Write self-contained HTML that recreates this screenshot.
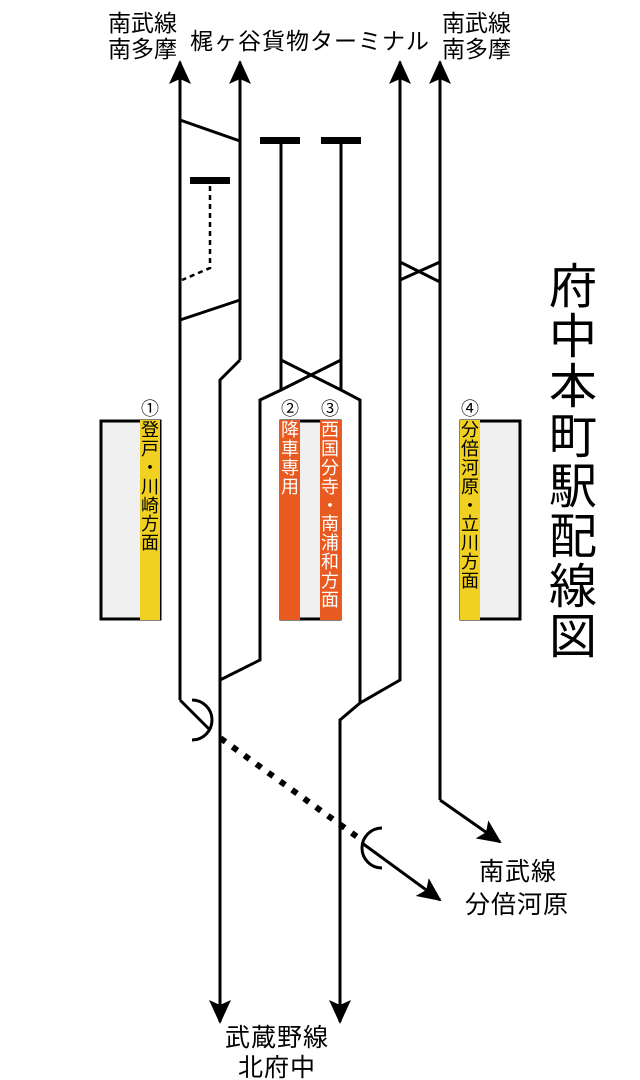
<!DOCTYPE html>
<html><head><meta charset="utf-8"><style>
html,body{margin:0;padding:0;background:#fff;}
svg{display:block;}
text{font-family:"Liberation Sans","Noto Sans CJK JP",sans-serif;}
</style></head><body>
<svg width="640" height="1080" viewBox="0 0 640 1080" xmlns="http://www.w3.org/2000/svg">
<defs>
<marker id="ah" viewBox="0 0 24 22" refX="22" refY="11" markerWidth="24" markerHeight="22" markerUnits="userSpaceOnUse" orient="auto">
<path d="M0,0 L24,11 L0,22 L5,11 Z" fill="#000"/>
</marker>
</defs>
<!-- platforms -->
<g stroke="#000" stroke-width="3">
<rect x="101" y="421" width="59" height="198" fill="#f0f0f0"/>
<rect x="281" y="421" width="59" height="198" fill="#f0f0f0"/>
<rect x="461" y="421" width="59" height="198" fill="#f0f0f0"/>
</g>
<rect x="140" y="420" width="20" height="200" fill="#f0d020"/>
<rect x="280" y="420" width="20" height="200" fill="#e85a20"/>
<rect x="320" y="420" width="21" height="200" fill="#e85a20"/>
<rect x="460" y="420" width="20" height="200" fill="#f0d020"/>
<g font-size="18" text-anchor="middle">
<text x="150" y="415">①</text><text x="290" y="415">②</text><text x="330" y="415">③</text><text x="470" y="415">④</text>
</g>
<g font-size="18" text-anchor="middle" fill="#000">
<text x="150" y="436">登</text><text x="150" y="455">戸</text><text x="150" y="474">・</text><text x="150" y="493">川</text><text x="150" y="512">崎</text><text x="150" y="530">方</text><text x="150" y="549">面</text>
<text x="470" y="436">分</text><text x="470" y="455">倍</text><text x="470" y="474">河</text><text x="470" y="493">原</text><text x="470" y="512">・</text><text x="470" y="530">立</text><text x="470" y="549">川</text><text x="470" y="568">方</text><text x="470" y="587">面</text>
</g>
<g font-size="18" text-anchor="middle" fill="#fff">
<text x="290" y="436">降</text><text x="290" y="455">車</text><text x="290" y="474">専</text><text x="290" y="493">用</text>
<text x="330" y="436">西</text><text x="330" y="455">国</text><text x="330" y="474">分</text><text x="330" y="493">寺</text><text x="330" y="512">・</text><text x="330" y="530">南</text><text x="330" y="549">浦</text><text x="330" y="568">和</text><text x="330" y="587">方</text><text x="330" y="606">面</text>
</g>
<!-- tracks -->
<g stroke="#000" stroke-width="3" fill="none">
<path d="M180,700 L180,62" marker-end="url(#ah)"/>
<path d="M180,700 L210,730"/>
<path d="M240,360 L240,62" marker-end="url(#ah)"/>
<path d="M240,360 L220,380 L220,1022" marker-end="url(#ah)"/>
<path d="M180,120 L240,141"/>
<path d="M180,320 L240,300"/>
<path d="M220,680 L260,660 L260,400 L281,390 L281,140"/>
<path d="M341,140 L341,390 L360,400 L360,703 L400,680 L400,62" marker-end="url(#ah)"/>
<path d="M281,360 L341,390"/>
<path d="M341,360 L281,390"/>
<path d="M360,703 L340,720 L340,1022" marker-end="url(#ah)"/>
<path d="M400,280 L440,262"/>
<path d="M400,262 L440,282"/>
<path d="M440,800 L440,62" marker-end="url(#ah)"/>
<path d="M440,800 L500,842" marker-end="url(#ah)"/>
<path d="M362,843 L440,900" marker-end="url(#ah)"/>
<path d="M192,700 A20,20 0 0 1 192,740"/>
<path d="M382,828 A20,20 0 0 0 382,868"/>
</g>
<g stroke="#000" stroke-width="2.5" fill="none" stroke-dasharray="5,4">
<path d="M210,186 L210,268 L182,280"/>
</g>
<g stroke="#000" stroke-width="6" stroke-dasharray="0.1,14.6" stroke-linecap="square" fill="none">
<path d="M223,740 L356,836"/>
</g>
<g fill="#000">
<rect x="190" y="177" width="40" height="7"/>
<rect x="260" y="137" width="40" height="7"/>
<rect x="321" y="137" width="40" height="7"/>
</g>
<!-- labels -->
<g font-size="23" fill="#000">
<text x="108" y="31">南武線</text><text x="108" y="57">南多摩</text>
<text x="442" y="31">南武線</text><text x="442" y="57">南多摩</text>
<text x="190" y="49" letter-spacing="1">梶ヶ谷貨物ターミナル</text>
</g>
<g font-size="25" fill="#000" letter-spacing="1">
<text x="479" y="880">南武線</text><text x="465" y="913">分倍河原</text>
<text x="225" y="1046">武蔵野線</text><text x="238" y="1076">北府中</text>
</g>
<g font-size="48" text-anchor="middle" fill="#000">
<text x="573" y="303">府</text><text x="573" y="353">中</text><text x="573" y="403">本</text><text x="573" y="453">町</text><text x="573" y="503">駅</text><text x="573" y="553">配</text><text x="573" y="603">線</text><text x="573" y="653">図</text>
</g>
</svg>
</body></html>
